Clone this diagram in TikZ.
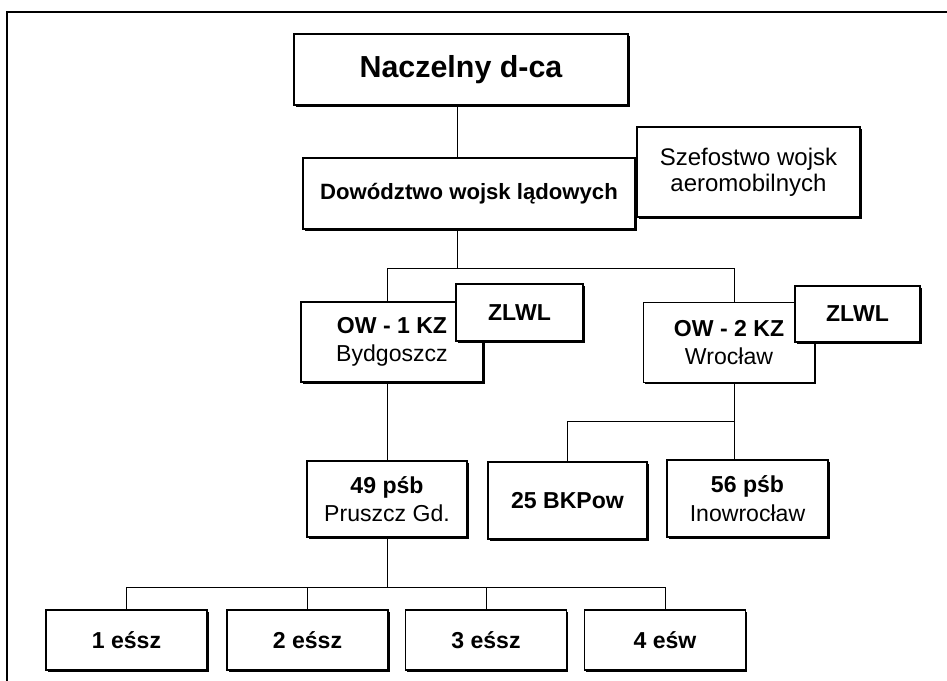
\documentclass[tikz,border=0pt]{standalone}
\usepackage{fontspec}
\setmainfont{Liberation Sans}
\usetikzlibrary{shadows}

\tikzset{
  unit/.style={draw, fill=white, rectangle, line width=0.8pt, align=center, inner sep=2pt,
    drop shadow={shadow xshift=1.3pt, shadow yshift=-1.3pt, opacity=1, fill=black},
    font=\fontsize{17.3}{21.5}\selectfont},
  boldunit/.style={unit, font=\fontsize{17.3}{21.5}\selectfont\bfseries},
  link/.style={line width=0.6pt}
}

\begin{document}
\begin{tikzpicture}[x=0.75pt,y=0.75pt,yscale=-1,xscale=1]
\useasboundingbox (0,0) rectangle (947,681);
%Frame
\draw [line width=1.2pt] (7,681) -- (7,12) -- (947,12);

%Top level
\node [boldunit, minimum width=250.5pt, minimum height=53.25pt, font=\fontsize{22.8}{26}\selectfont\bfseries] (naczelny) at (461,69.5) {Naczelny d-ca};
\node [boldunit, minimum width=249pt, minimum height=53.25pt, font=\fontsize{16.6}{20}\selectfont\bfseries] (dowodztwo) at (469,193.5) {Dowództwo wojsk lądowych};
\node [unit, minimum width=167.25pt, minimum height=67.5pt, font=\fontsize{18}{19.5}\selectfont] (szefostwo) at (748.5,172) {Szefostwo wojsk\\aeromobilnych};

%Military districts
\node [unit, minimum width=136.5pt, minimum height=60pt] (ow1) at (392,342) {\textbf{OW - 1 KZ}\\Bydgoszcz};
\node [boldunit, minimum width=95.25pt, minimum height=42.75pt] (zlwl1) at (519.5,312.5) {ZLWL};
\node [unit, minimum width=128pt, minimum height=60pt] (ow2) at (729,342.5) {\textbf{OW - 2 KZ}\\Wrocław};
\node [boldunit, minimum width=93.75pt, minimum height=42pt] (zlwl2) at (857.5,314) {ZLWL};

%Units
\node [unit, minimum width=120pt, minimum height=57pt] (psb49) at (387,499) {\textbf{49 pśb}\\Pruszcz Gd.};
\node [boldunit, minimum width=119.25pt, minimum height=57.75pt] (bkpow) at (567.5,500.5) {25 BKPow};
\node [unit, minimum width=120.75pt, minimum height=57.75pt] (psb56) at (747.5,498.5) {\textbf{56 pśb}\\Inowrocław};

%Squadrons
\foreach \n/\x/\t in {1/126.5/1 eśsz, 2/307.5/2 eśsz, 3/486/3 eśsz, 4/665/4 eśw}
  \node [boldunit, minimum width=120.75pt, minimum height=45pt] (e\n) at (\x,640) {\t};

%Straight Lines
\coordinate (bus1) at (457,268);
\coordinate (bus2) at (734,421);
\coordinate (bus3) at (388,587);
\draw [link] (naczelny.south -| bus1) -- (dowodztwo.north -| bus1);
\draw [link] (dowodztwo.south -| bus1) -- (bus1);
\draw [link] (ow1.north -| psb49) -- (psb49 |- bus1) -- (bus2 |- bus1) -- (bus2 |- ow2.north);
\draw [link] (ow1.south -| psb49) -- (psb49.north);
\draw [link] (bus2 |- ow2.south) -- (bus2 |- psb56.north);
\draw [link] (bus2) -| (bkpow.north);
\draw [link] (psb49.south) -- (psb49 |- bus3);
\draw [link] (e1.north) |- (e4 |- bus3) -- (e4.north);
\foreach \n in {2,3}
  \draw [link] (e\n.north) -- (e\n |- bus3);
\end{tikzpicture}
\end{document}
